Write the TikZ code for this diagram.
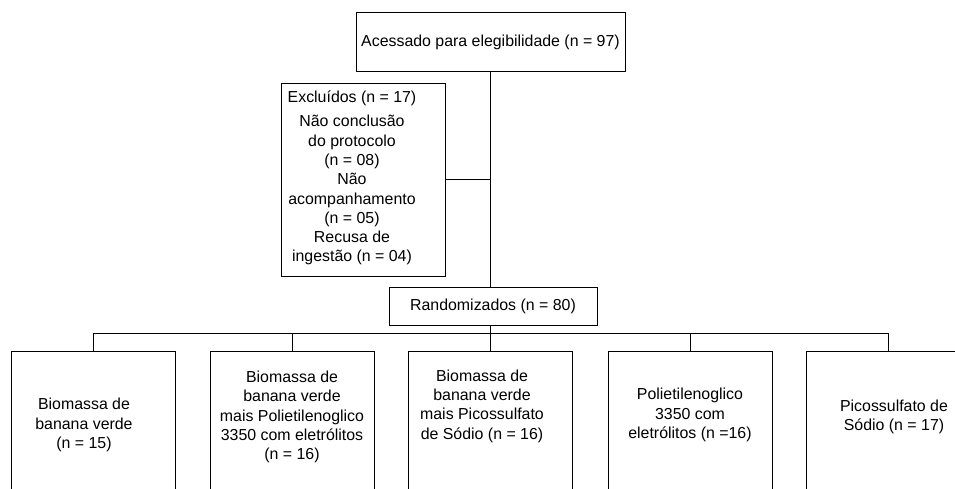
\documentclass[tikz,border=0pt]{standalone}
\usepackage{fontspec}
\setmainfont{Liberation Sans}
\begin{document}
\begin{tikzpicture}[x=1pt, y=-1pt, line width=1pt]
    % Styles
    \tikzstyle{block} = [rectangle, draw, inner sep=0pt]
    \tikzstyle{txt} = [align=center, font=\fontsize{15.9}{19.3}\selectfont, inner sep=0pt]
    \tikzstyle{line} = [draw, line width=1pt]

    \useasboundingbox (0,0) rectangle (955,489);
    \clip (0,0) rectangle (955,489);

    % Nodes
    \node [block, txt, minimum width=269, minimum height=59] (acess) at (490.5,42.5) {Acessado para elegibilidade (n = 97)};
    \node [block, minimum width=164, minimum height=192] (excl) at (363,180) {};
    \node [txt] (excltxt) at (352,178) {Excluídos (n = 17)\\[5pt] Não conclusão\\do protocolo\\(n = 08)\\Não\\acompanhamento\\(n = 05)\\Recusa de\\ingestão (n = 04)};
    \node [block, txt, minimum width=208, minimum height=38] (rand) at (493,306) {Randomizados (n = 80)};
    \coordinate (split) at (490,333);

    \foreach \x [count=\i] in {93,292,490,690,888}
        \node [block, minimum width=164, minimum height=180, anchor=north] (g\i) at (\x,351) {};

    \node [txt] (t1) at (84,425) {Biomassa de\\banana verde\\(n = 15)};
    \node [txt] (t2) at (292,417) {Biomassa de\\banana verde\\mais Polietilenoglico\\3350 com eletrólitos\\(n = 16)};
    \node [txt] (t3) at (482,406) {Biomassa de\\banana verde\\mais Picossulfato\\de Sódio (n = 16)};
    \node [txt] (t4) at (690,415) {Polietilenoglico\\3350 com\\eletrólitos (n =16)};
    \node [txt] (t5) at (894,417) {Picossulfato de\\Sódio (n = 17)};

    % Lines
    \draw [line] (acess.south) -- (acess.south |- rand.north);
    \draw [line] (excl.east) -- (excl.east -| acess.south);
    \draw [line] (split |- rand.south) -- (split);
    \foreach \i in {1,...,5}
        \draw [line] (split) -| (g\i.north);
\end{tikzpicture}
\end{document}
